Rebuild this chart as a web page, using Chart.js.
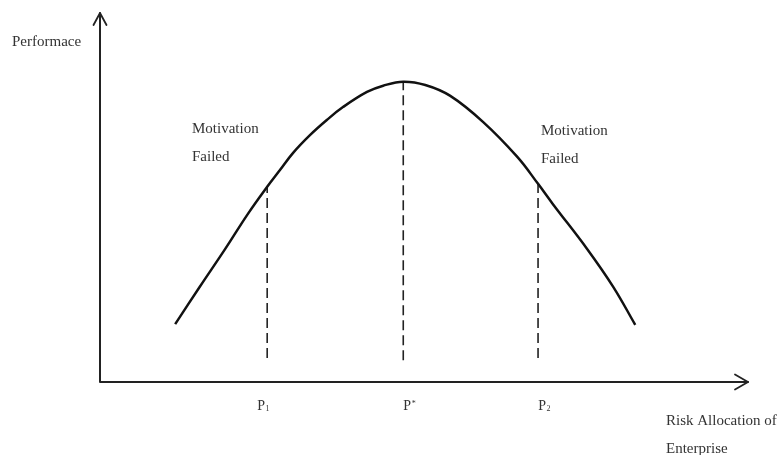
<!DOCTYPE html>
<html>
<head>
<meta charset="utf-8">
<script src="https://cdn.jsdelivr.net/npm/chart.js@4.4.1/dist/chart.umd.min.js"></script>
<style>
  html, body { margin: 0; padding: 0; background: #fff; }
  #wrap { width: 782px; height: 455px; }
</style>
</head>
<body>
<div id="wrap"><canvas id="riskChart" width="782" height="455"></canvas></div>
<script>
  // performance curve (x = risk allocation, y = performance, 0-100)
  const curveX = [11.6, 15.4, 19.3, 22.8, 25.8, 27.8, 29.8, 32.4, 35.0, 37.5, 41.2, 43.7, 46.8,
                  50.2, 54.0, 59.1, 64.4, 67.6, 69.9, 75.2, 79.2, 82.6];
  const curveY = [15.7, 25.8, 36.0, 45.5, 52.9, 57.5, 62.1, 66.9, 71.0, 74.5, 78.6, 80.3, 81.4,
                  80.5, 77.6, 70.5, 61.0, 53.7, 48.2, 36.0, 25.8, 15.5];

  // the three marked allocation points and where their dashed guides start / end
  const tickLabels = ['P1', 'P*', 'P2'];
  const tickX = [25.8, 46.8, 67.6];
  const guideLow = [6.5, 5.9, 6.5];
  const guideHigh = [52.9, 81.4, 53.7];

  const axisTitleY = 'Performace';
  const axisTitleX = ['Risk Allocation of', 'Enterprise'];
  const noteLines = ['Motivation', 'Failed'];

  const FONT = '15px "Liberation Serif", "Times New Roman", serif';
  const INK = '#333';

  const datasets = [{
    label: 'Performance',
    data: curveX.map((x, i) => ({ x: x, y: curveY[i] })),
    borderColor: '#111',
    borderWidth: 2.5,
    pointRadius: 0,
    tension: 0.4,
    fill: false
  }];

  tickX.forEach((x, i) => {
    datasets.push({
      label: tickLabels[i],
      data: [{ x: x, y: guideLow[i] }, { x: x, y: guideHigh[i] }],
      borderColor: '#222',
      borderWidth: 1.6,
      borderDash: [10, 5],
      pointRadius: 0,
      fill: false
    });
  });

  // axes with arrow heads, tick labels and notes
  const sketchPlugin = {
    id: 'sketch',
    afterDraw(c) {
      const ctx = c.ctx;
      const xs = c.scales.x, ys = c.scales.y;
      const left = xs.getPixelForValue(0), right = xs.getPixelForValue(100);
      const bottom = ys.getPixelForValue(0), top = ys.getPixelForValue(100);

      ctx.save();
      ctx.strokeStyle = '#222';
      ctx.lineWidth = 2;
      ctx.lineCap = 'round';
      ctx.lineJoin = 'round';
      ctx.beginPath();
      ctx.moveTo(left, top);
      ctx.lineTo(left, bottom);
      ctx.lineTo(right, bottom);
      ctx.stroke();

      ctx.lineWidth = 1.8;
      ctx.beginPath();
      ctx.moveTo(left - 6.5, top + 12);
      ctx.lineTo(left, top);
      ctx.lineTo(left + 6.5, top + 12);
      ctx.moveTo(right - 13, bottom - 7.5);
      ctx.lineTo(right, bottom);
      ctx.lineTo(right - 13, bottom + 7.5);
      ctx.stroke();

      ctx.fillStyle = INK;
      ctx.font = FONT;
      ctx.textBaseline = 'middle';
      ctx.textAlign = 'left';

      // tick labels with small sub / superscripts
      const tickShift = [-4, 6, 6];
      tickLabels.forEach((t, i) => {
        const cx = xs.getPixelForValue(tickX[i]) + tickShift[i];
        const base = t.charAt(0), sub = t.slice(1);
        ctx.font = '14px "Liberation Serif", serif';
        const w = ctx.measureText(base).width;
        ctx.font = '8px "Liberation Serif", serif';
        const ws = ctx.measureText(sub).width;
        const x0 = cx - (w + ws) / 2;
        ctx.font = '14px "Liberation Serif", serif';
        ctx.fillText(base, x0, 406);
        ctx.font = '8px "Liberation Serif", serif';
        ctx.fillText(sub, x0 + w + 0.5, sub === '*' ? 404 : 409);
      });

      ctx.font = FONT;
      ctx.fillText(axisTitleY, 12, 42);
      axisTitleX.forEach((t, i) => ctx.fillText(t, 666, 421 + i * 28));
      noteLines.forEach((t, i) => {
        ctx.fillText(t, 192, 129 + i * 28);
        ctx.fillText(t, 541, 131 + i * 28);
      });
      ctx.restore();
    }
  };

  new Chart(document.getElementById('riskChart'), {
    type: 'line',
    data: { datasets: datasets },
    options: {
      responsive: false,
      animation: false,
      layout: { padding: { left: 100, right: 34, top: 13, bottom: 73 } },
      plugins: { legend: { display: false }, tooltip: { enabled: false } },
      scales: {
        x: { type: 'linear', min: 0, max: 100, display: false },
        y: { type: 'linear', min: 0, max: 100, display: false }
      }
    },
    plugins: [sketchPlugin]
  });
</script>
</body>
</html>
